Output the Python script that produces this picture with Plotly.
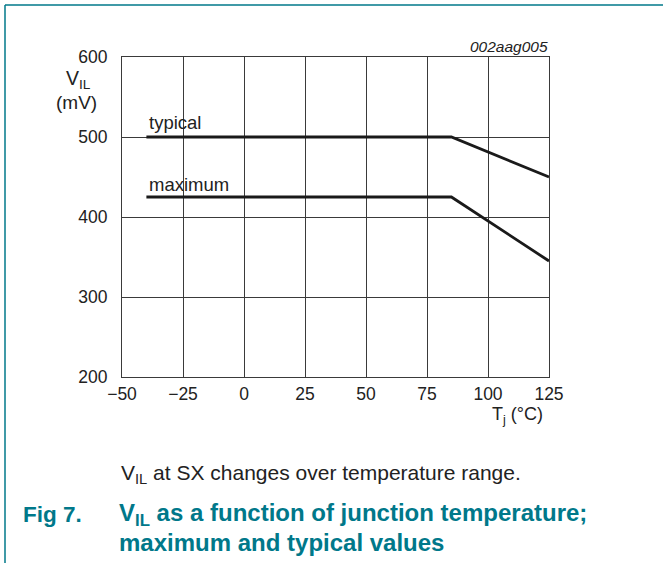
import plotly.graph_objects as go

# Data
temp_typ = [-40, 85, 125]
vil_typ = [500, 500, 450]
temp_max = [-40, 85, 125]
vil_max = [425, 425, 345]
x_ticks = [-50, -25, 0, 25, 50, 75, 100, 125]
y_ticks = [200, 300, 400, 500, 600]

W, H = 663, 563
L, R, T, B = 122, 549, 57, 377
TEAL = "#00788a"
FONT = "Liberation Sans, Arial, sans-serif"

def px(xp):
    return (xp - L) / (R - L)

def py(yp):
    return (B - yp) / (B - T)

fig = go.Figure()
fig.add_trace(go.Scatter(x=temp_typ, y=vil_typ, mode="lines",
                         line=dict(color="#1a1a1a", width=2.8), showlegend=False))
fig.add_trace(go.Scatter(x=temp_max, y=vil_max, mode="lines",
                         line=dict(color="#1a1a1a", width=2.8), showlegend=False))

fig.update_layout(
    width=W, height=H,
    margin=dict(l=L, r=W - R, t=T, b=H - B, autoexpand=False),
    paper_bgcolor="white", plot_bgcolor="white",
    font=dict(family=FONT, size=17.5, color="#222222"),
    xaxis=dict(range=[-50, 125], tickvals=x_ticks, showgrid=True, gridcolor="#3a3a3a",
               gridwidth=1, showline=True, linecolor="#3a3a3a", linewidth=1, mirror=True,
               zeroline=False, ticks="", ticklabelstandoff=1,
               tickfont=dict(size=17.5)),
    yaxis=dict(range=[200, 600], tickvals=y_ticks, showgrid=True, gridcolor="#3a3a3a",
               gridwidth=1, showline=True, linecolor="#3a3a3a", linewidth=1, mirror=True,
               zeroline=False, ticks="", ticklabelstandoff=10,
               tickfont=dict(size=17.5)),
)

ann = [
    dict(text="typical", x=px(147), y=py(122.5), xanchor="left", yanchor="middle", font=dict(size=18.5)),
    dict(text="maximum", x=px(147), y=py(184.5), xanchor="left", yanchor="middle", font=dict(size=18.5)),
    dict(text="<i>002aag005</i>", x=px(550), y=py(46.5), xanchor="right", yanchor="middle", font=dict(size=15.5)),
    dict(text="V<sub>IL</sub>", x=px(64), y=py(79), xanchor="left", yanchor="middle", font=dict(size=19.5)),
    dict(text="(mV)", x=px(76.5), y=py(102), xanchor="center", yanchor="middle", font=dict(size=19)),
    dict(text="T<sub>j</sub> (°C)", x=px(545), y=py(415), xanchor="right", yanchor="middle", font=dict(size=18)),
    dict(text="V<sub>IL</sub> at SX changes over temperature range.", x=px(119), y=py(474),
         xanchor="left", yanchor="middle", font=dict(size=21)),
    dict(text="<b>Fig 7.</b>", x=px(21), y=py(514), xanchor="left", yanchor="middle",
         font=dict(size=22.5, color=TEAL)),
    dict(text="<b>V<sub>IL</sub> as a function of junction temperature;</b>", x=px(117), y=py(514),
         xanchor="left", yanchor="middle", font=dict(size=24, color=TEAL)),
    dict(text="<b>maximum and typical values</b>", x=px(117), y=py(542),
         xanchor="left", yanchor="middle", font=dict(size=24, color=TEAL)),
]
for a in ann:
    a.update(xref="paper", yref="paper", showarrow=False)
    fig.add_annotation(**a)

fig.add_shape(type="line", xref="paper", yref="paper", x0=px(5), x1=px(663), y0=py(5), y1=py(5),
              line=dict(color=TEAL, width=1.5))
fig.add_shape(type="line", xref="paper", yref="paper", x0=px(5), x1=px(5), y0=py(5), y1=py(563),
              line=dict(color=TEAL, width=1.5))

fig.write_html("out.html", config={"displayModeBar": False},
               post_script="document.body.style.margin='0';")
